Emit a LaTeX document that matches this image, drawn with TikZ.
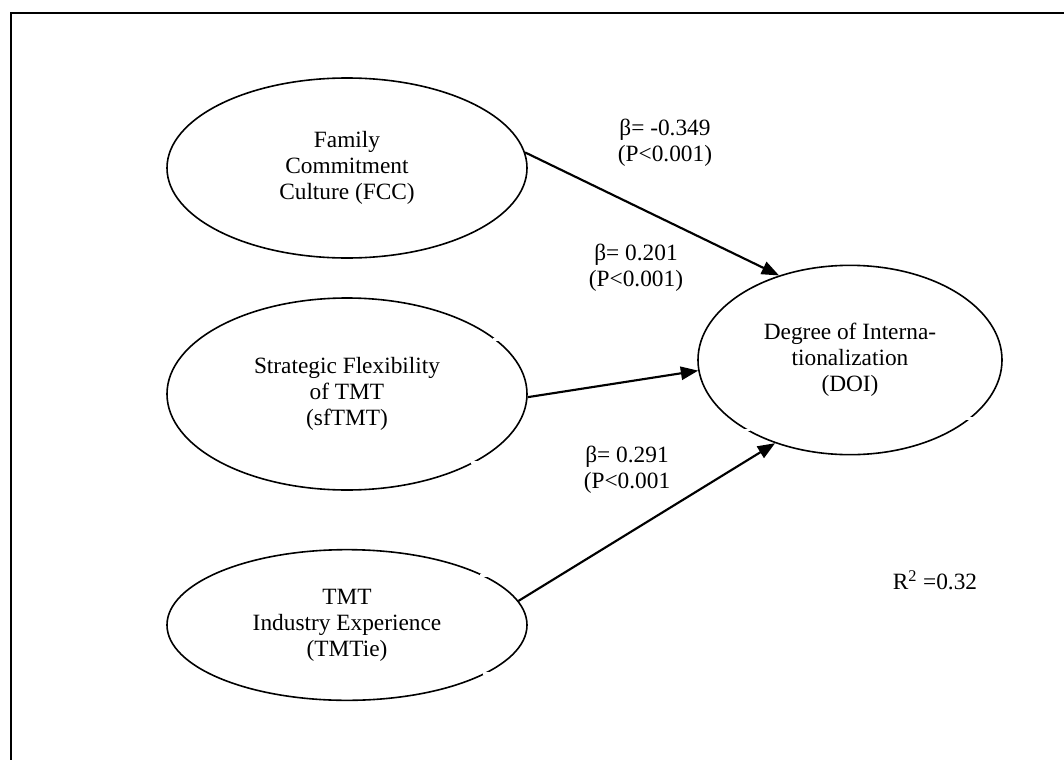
\documentclass[tikz,border=0pt]{standalone}
\usepackage{fontspec}
\setmainfont{Liberation Serif}
\usetikzlibrary{shapes.geometric,arrows.meta}
\begin{document}
\begin{tikzpicture}[x=0.75pt,y=-0.75pt,
  construct/.style={draw,line width=1.2pt,ellipse,inner sep=0pt,align=center,
    font=\fontsize{17.5}{19.5}\selectfont},
  path/.style={line width=1.6pt,-{Triangle[length=13pt,width=10pt]}},
  coef/.style={align=center,font=\fontsize{17.5}{19.5}\selectfont},
  notch/.style={fill=white,inner sep=0pt,minimum width=6pt,minimum height=2pt}]
\useasboundingbox (0,0) rectangle (1064,760);
\fill[white] (0,0) rectangle (1064,760);
% frame
\draw[line width=1.2pt] (11,760) -- (11,13);
\draw[line width=1.6pt] (10.4,13) -- (1064,13);
% constructs (sizes in pt)
\node[construct,minimum width=270pt,minimum height=135pt] (fcc) at (347,168)
  {Family\\Commitment\\Culture (FCC)};
\node[construct,minimum width=270pt,minimum height=144pt] (sf) at (347,394)
  {Strategic Flexibility\\of TMT\\(sfTMT)};
\node[construct,minimum width=270pt,minimum height=113pt] (tie) at (347,625)
  {TMT\\Industry Experience\\(TMTie)};
\node[construct,minimum width=228pt,minimum height=142pt] (doi) at (850,360)
  {Degree of Interna-\\tionalization\\(DOI)};
% small breaks in the outlines
\node[notch] (n1) at (sf.20) {};
\node[notch] (n2) at (sf.-28) {};
\node[notch] (n3) at (tie.20) {};
\node[notch] (n4) at (tie.-19) {};
\node[notch] (n5) at (doi.214) {};
\node[notch] (n6) at (doi.-26) {};
% paths
\draw[path] (fcc.5) -- (doi.130);
\draw[path] (sf.-1.5) -- (doi.184);
\draw[path] (tie.8) -- (doi.228);
% coefficients
\node[coef] (c1) at (665,143) {β= -0.349\\(P<0.001)};
\node[coef] (c2) at (636,268) {β= 0.201\\(P<0.001)};
\node[coef] (c3) at (627,470) {β= 0.291\\(P<0.001};
\node[coef] (r2) at (935,580) {R\textsuperscript{2} =0.32};
\end{tikzpicture}
\end{document}
